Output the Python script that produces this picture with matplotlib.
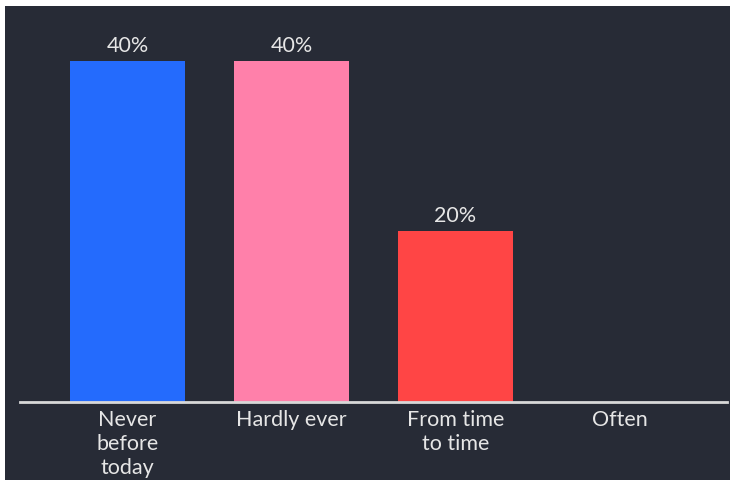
import matplotlib
matplotlib.use("Agg")
import matplotlib.pyplot as plt
from matplotlib.patches import Rectangle

categories = ["Never\nbefore\ntoday", "Hardly ever", "From time\nto time", "Often"]
values = [40, 40, 20, 0]
labels = ["40%", "40%", "20%", ""]
colors = ["#246bfd", "#ff80aa", "#ff4545", "#ff4545"]

bg = "#272b36"
txt = "#e6e6e6"

plt.rcParams['font.family'] = ['Lato', 'DejaVu Sans']

fig = plt.figure(figsize=(7.3, 4.8), dpi=100)
fig.patch.set_facecolor("white")
fig.add_artist(Rectangle((5 / 730, 0), 1, 474 / 480, transform=fig.transFigure,
                         facecolor=bg, edgecolor="none", zorder=0))

ax = fig.add_axes([20 / 730, 78 / 480, 707 / 730, 396 / 480])
ax.set_facecolor("none")
x = range(len(categories))
bars = ax.bar(x, values, width=0.70, color=colors)
for b, lab in zip(bars, labels):
    if lab:
        ax.text(b.get_x() + b.get_width() / 2, b.get_height() + 0.6, lab,
                ha="center", va="bottom", color=txt, fontsize=15.5)

ax.set_xlim(-0.655, 3.655)
ax.set_ylim(0, 46.45)
ax.set_xticks(list(x))
ax.set_xticklabels(categories, color=txt, fontsize=15.5, linespacing=1.24, va="top")
ax.tick_params(axis="x", length=0, pad=6)
ax.set_yticks([])
for s in ["top", "right", "left"]:
    ax.spines[s].set_visible(False)
ax.spines["bottom"].set_color("#d8d8d8")
ax.spines["bottom"].set_linewidth(2)

fig.savefig("out.png", dpi=100, facecolor=fig.get_facecolor())
